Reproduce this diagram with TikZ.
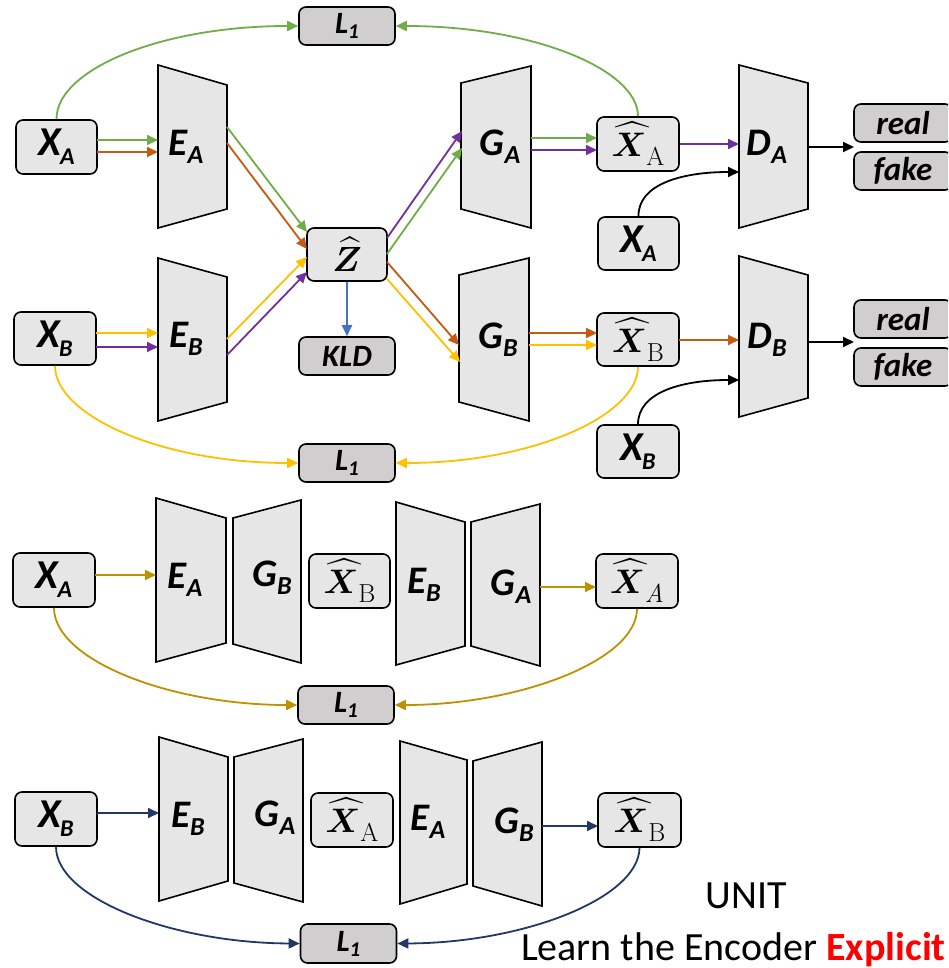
\documentclass[tikz,border=0pt]{standalone}
\usepackage{graphicx}
\usepackage{fontspec}
\usepackage{amsmath,bm}
\usetikzlibrary{arrows.meta}
\newfontfamily\carl{Carlito}
\definecolor{cgreen}{HTML}{70AD47}
\definecolor{corange}{HTML}{C55A11}
\definecolor{cpurple}{HTML}{7030A0}
\definecolor{cyellow}{HTML}{FFC000}
\definecolor{cblue}{HTML}{4472C4}
\definecolor{cgold}{HTML}{BF9000}
\definecolor{cnavy}{HTML}{203864}
\definecolor{lightfill}{HTML}{E6E6E6}
\definecolor{darkfill}{HTML}{D0CECE}
\newcommand\bi{\carl\bfseries\itshape}
\newcommand\XL[2]{{\bi\fontsize{41}{41}\selectfont #1\kern-1pt\raisebox{-9pt}{\fontsize{24}{24}\selectfont #2}}}
\newcommand\TL[2]{{\bi\fontsize{39}{39}\selectfont #1\raisebox{-8pt}{\fontsize{26}{26}\selectfont #2}}}
\newcommand\LL{{\bi\fontsize{31}{31}\selectfont L\raisebox{-5pt}{\fontsize{21}{21}\selectfont 1}}}
\newcommand\XH[2]{{\scalebox{3.4}{$\widehat{\bm{#1}}$}\raisebox{-9pt}{\fontsize{26}{26}\selectfont #2}}}
\begin{document}
\begin{tikzpicture}[x=1pt,y=-1pt,
 box/.style={draw=black, line width=1.6pt, rounded corners=7pt, fill=lightfill, inner sep=0pt},
 dbox/.style={box, fill=darkfill, minimum width=96pt, minimum height=38pt},
 trap/.style={draw=black, line width=1.6pt, fill=lightfill, line join=miter},
 arr/.style={line width=1.8pt, -{Triangle[length=11pt,width=10pt]}},
 txt/.style={inner sep=0pt}]
\useasboundingbox (0,0) rectangle (948,968);

% ---------------- top section: trapezoids
\draw[trap] (158,65) -- (227,85) -- (227,209) -- (158,228) -- cycle;
\draw[trap] (158,258) -- (227,277) -- (227,402) -- (158,421) -- cycle;
\draw[trap] (461,83) -- (531,66) -- (531,228) -- (461,209) -- cycle;
\draw[trap] (459,275) -- (529,258) -- (529,421) -- (459,402) -- cycle;
\draw[trap] (739,65) -- (808,83) -- (808,209) -- (739,228) -- cycle;
\draw[trap] (739,256) -- (808,275) -- (808,398) -- (739,417) -- cycle;
\node[txt] (ea1) at (186,147) {\TL{E}{A}};
\node[txt] (eb1) at (186,339) {\TL{E}{B}};
\node[txt] (ga1) at (500,147) {\TL{G}{A}};
\node[txt] (gb1) at (498,340) {\TL{G}{B}};
\node[txt] (da) at (767,147) {\TL{D}{A}};
\node[txt] (db) at (767,340) {\TL{D}{B}};

% boxes
\node[box, minimum width=81pt, minimum height=54pt] (xa1) at (56.5,147) {\XL{X}{A}};
\node[box, minimum width=82pt, minimum height=53pt] (xb1) at (55,338.5) {\XL{X}{B}};
\node[dbox] (l1a) at (347,26) {\LL};
\node[box, minimum width=80pt, minimum height=53pt] (z) at (347,254.5) {\scalebox{3.5}{$\widehat{\bm{Z}}$}};
\node[dbox] (kld) at (347,356) {{\bi\fontsize{31}{31}\selectfont KLD}};
\node[dbox] (l1b) at (347,463) {\LL};
\node[box, minimum width=82pt, minimum height=54pt] (xha) at (638,144) {\XH{X}{A}};
\node[box, minimum width=81pt, minimum height=53pt] (xa2) at (638.5,243.5) {\XL{X}{A}};
\node[box, minimum width=82pt, minimum height=53pt] (xhb) at (638,339.5) {\XH{X}{B}};
\node[box, minimum width=82pt, minimum height=53pt] (xb2) at (638,451.5) {\XL{X}{B}};
\begin{scope}
\clip (0,0) rectangle (948,968);
\node[dbox, minimum width=98pt] (ra) at (903,123) {{\bi\fontsize{33}{33}\selectfont real}};
\node[dbox, minimum width=98pt] (fa) at (903,171) {{\bi\fontsize{33}{33}\selectfont fake}};
\node[dbox, minimum width=98pt] (rb) at (903,319) {{\bi\fontsize{33}{33}\selectfont real}};
\node[dbox, minimum width=98pt] (fb) at (903,367) {{\bi\fontsize{33}{33}\selectfont fake}};
\end{scope}

% arrows top section
\draw[arr,cgreen] (97,140) -- (158,140);
\draw[arr,corange] (97,152) -- (158,152);
\draw[arr,cyellow] (96,333) -- (158,333);
\draw[arr,cpurple] (96,347) -- (158,347);
\draw[arr,cgreen] (227,127) -- (307,232);
\draw[arr,corange] (227,143) -- (307,249);
\draw[arr,cyellow] (227,339) -- (307,257);
\draw[arr,cpurple] (227,355) -- (307,272);
\draw[arr,cpurple] (387,238) -- (462,131);
\draw[arr,cgreen] (387,254) -- (462,148);
\draw[arr,corange] (387,262) -- (459,345);
\draw[arr,cyellow] (387,279) -- (460,362);
\draw[arr,cblue] (z.south) -- (kld.north);
\draw[arr,cgreen] (531,138) -- (597,138);
\draw[arr,cpurple] (531,150) -- (597,150);
\draw[arr,cpurple] (xha.east) -- (739,144);
\draw[arr,corange] (529,333) -- (597,333);
\draw[arr,cyellow] (529,345) -- (597,345);
\draw[arr,corange] (679,340) -- (739,340);
\draw[arr,black] (808,147) -- (854,147);
\draw[arr,black] (808,342) -- (854,342);
\draw[arr,black] (xa2.north) .. controls (638,185) and (680,172) .. (739,172);
\draw[arr,black] (xb2.north) .. controls (638,393) and (680,380) .. (739,380);
\draw[arr,cgreen] (xa1.north) .. controls (56,70) and (160,26) .. (l1a.west);
\draw[arr,cgreen] (xha.north) .. controls (638,70) and (534,26) .. (l1a.east);
\draw[arr,cyellow] (xb1.south) .. controls (55,415) and (160,463) .. (l1b.west);
\draw[arr,cyellow] (xhb.south) .. controls (638,415) and (534,463) .. (l1b.east);

% ---------------- row 3
\draw[trap] (156,498) -- (226,518) -- (226,643) -- (156,662) -- cycle;
\draw[trap] (233,518) -- (301,500) -- (301,663) -- (233,644) -- cycle;
\draw[trap] (396,502) -- (465,522) -- (465,646) -- (396,665) -- cycle;
\draw[trap] (471,522) -- (540,504) -- (540,666) -- (471,646) -- cycle;
\node[txt] (ea3) at (185,580) {\TL{E}{A}};
\node[txt] (gb3) at (272,578) {\TL{G}{B}};
\node[txt] (eb3) at (424,585) {\TL{E}{B}};
\node[txt] (ga3) at (511,587) {\TL{G}{A}};
\node[box, minimum width=82pt, minimum height=54pt] (xa3) at (54,580) {\XL{X}{A}};
\node[box, minimum width=81pt, minimum height=54pt] (xhb3) at (349.5,581) {\XH{X}{B}};
\node[box, minimum width=82pt, minimum height=54pt] (xha3) at (637,581) {\XH{X}{\itshape A}};
\node[dbox] (l13) at (346,705) {\LL};
\draw[arr,cgold] (95,575) -- (156,575);
\draw[arr,cgold] (540,587) -- (596,587);
\draw[arr,cgold] (xa3.south) .. controls (54,660) and (170,705) .. (l13.west);
\draw[arr,cgold] (xha3.south) .. controls (637,660) and (520,705) .. (l13.east);

% ---------------- row 4
\draw[trap] (159,737) -- (228,757) -- (228,881) -- (159,901) -- cycle;
\draw[trap] (234,757) -- (303,739) -- (303,902) -- (234,883) -- cycle;
\draw[trap] (400,741) -- (467,760) -- (467,884) -- (400,904) -- cycle;
\draw[trap] (473,761) -- (542,742) -- (542,906) -- (473,886) -- cycle;
\node[txt] (eb4) at (188,819) {\TL{E}{B}};
\node[txt] (ga4) at (275,818) {\TL{G}{A}};
\node[txt] (ea4) at (428,822) {\TL{E}{A}};
\node[txt] (gb4) at (514,825) {\TL{G}{B}};
\node[box, minimum width=82pt, minimum height=54pt] (xb4) at (56,819) {\XL{X}{B}};
\node[box, minimum width=82pt, minimum height=54pt] (xha4) at (352,820) {\XH{X}{A}};
\node[box, minimum width=83pt, minimum height=54pt] (xhb4) at (639.5,820) {\XH{X}{B}};
\node[dbox, minimum height=39pt] (l14) at (348.5,943.5) {\LL};
\draw[arr,cnavy] (97,813) -- (159,813);
\draw[arr,cnavy] (542,826) -- (598,826);
\draw[arr,cnavy] (xb4.south) .. controls (56,898) and (172,943) .. (l14.west);
\draw[arr,cnavy] (xhb4.south) .. controls (639,898) and (524,943) .. (l14.east);

% caption
\node[txt, anchor=base] (unit) at (746,908) {{\carl\fontsize{40}{40}\selectfont UNIT}};
\node[txt, anchor=base east] (learn) at (946,960) {{\carl\fontsize{40}{40}\selectfont Learn the Encoder \textcolor{red}{\bfseries Explicit}}};
\end{tikzpicture}
\end{document}
